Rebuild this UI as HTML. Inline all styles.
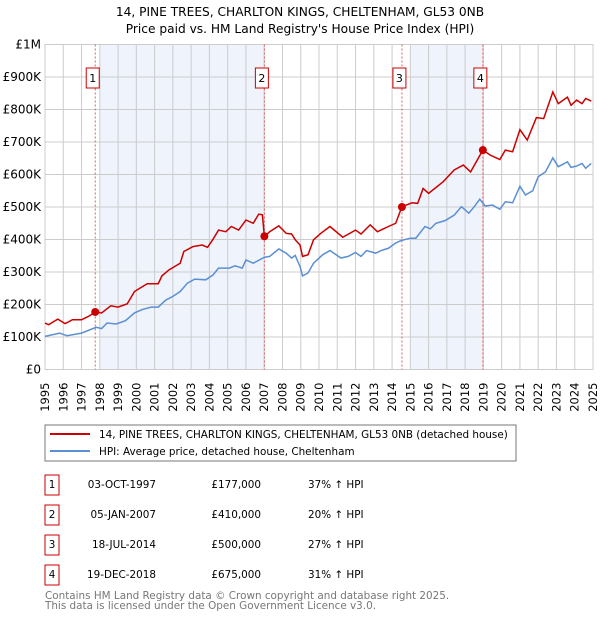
<!DOCTYPE html>
<html><head><meta charset="utf-8"><style>
body{margin:0;background:#fff;width:600px;height:620px;overflow:hidden;font-family:"DejaVu Sans","Liberation Sans",sans-serif}
svg text{font-family:"DejaVu Sans","Liberation Sans",sans-serif}
</style></head><body>
<svg id="c" width="600" height="620">
<text x="300" y="16" text-anchor="middle" font-size="12.2">14, PINE TREES, CHARLTON KINGS, CHELTENHAM, GL53 0NB</text>
<text x="300" y="33" text-anchor="middle" font-size="12.2">Price paid vs. HM Land Registry's House Price Index (HPI)</text>
<g id="plot"></g>
<rect x="45" y="425" width="471" height="36" fill="none" stroke="#777"/>
<line x1="50" y1="434" x2="90" y2="434" stroke="#cc0000" stroke-width="2"/>
<text x="99" y="438" font-size="10.4">14, PINE TREES, CHARLTON KINGS, CHELTENHAM, GL53 0NB (detached house)</text>
<line x1="50" y1="451" x2="90" y2="451" stroke="#5b8fd4" stroke-width="2"/>
<text x="99" y="455" font-size="10.4">HPI: Average price, detached house, Cheltenham</text>
<g id="tbl" font-size="10.4"></g>
<text x="45" y="599" font-size="10.4" fill="#777">Contains HM Land Registry data © Crown copyright and database right 2025.</text>
<text x="45" y="609" font-size="10.4" fill="#777">This data is licensed under the Open Government Licence v3.0.</text>
</svg>
<script>
const yTicks=[0,100,200,300,400,500,600,700,800,900,1000];
const yTickLabels=["£0","£100K","£200K","£300K","£400K","£500K","£600K","£700K","£800K","£900K","£1M"];
const years=[1995,1996,1997,1998,1999,2000,2001,2002,2003,2004,2005,2006,2007,2008,2009,2010,2011,2012,2013,2014,2015,2016,2017,2018,2019,2020,2021,2022,2023,2024,2025];
const shadeBands=[[1998,2007],[2015,2019]];
const saleYears=[1997.75,2007.01,2014.54,2018.97];
const saleValues=[177,410,500,675];
const saleDates=["03-OCT-1997","05-JAN-2007","18-JUL-2014","19-DEC-2018"];
const salePrices=["£177,000","£410,000","£500,000","£675,000"];
const saleHpi=["37% ↑ HPI","20% ↑ HPI","27% ↑ HPI","31% ↑ HPI"];
const hpiT=[1995,1995.8,1996.2,1997,1997.8,1998.1,1998.4,1998.9,1999.4,1999.9,2000.3,2000.8,2001.2,2001.6,2002,2002.4,2002.8,2003.2,2003.8,2004.2,2004.5,2005.1,2005.4,2005.8,2006,2006.4,2007,2007.3,2007.8,2008.2,2008.5,2008.7,2008.96,2009.1,2009.4,2009.7,2010.2,2010.6,2011.2,2011.6,2012,2012.3,2012.6,2013.1,2013.4,2013.8,2014.2,2014.5,2015,2015.3,2015.8,2016.1,2016.4,2016.9,2017.4,2017.8,2018.2,2018.5,2018.8,2019.1,2019.5,2019.9,2020.2,2020.6,2021,2021.3,2021.7,2022,2022.4,2022.8,2023.1,2023.6,2023.8,2024.1,2024.4,2024.6,2024.9];
const hpiV=[102,112,104,112,130,126,143,140,150,174,184,192,192,213,225,240,266,278,276,291,312,312,319,312,337,327,345,348,371,358,343,351,317,288,297,327,353,366,343,348,360,348,366,358,366,373,389,397,404,404,440,433,450,458,475,501,481,501,524,503,506,493,516,513,564,537,550,593,608,651,624,639,622,626,634,619,634];
const pT=[1995,1995.2,1995.7,1996.1,1996.5,1997,1997.4,1997.75,1998.1,1998.6,1999,1999.5,1999.9,2000.3,2000.6,2001.2,2001.4,2001.8,2002.4,2002.6,2003.1,2003.6,2003.9,2004.2,2004.5,2004.9,2005.2,2005.6,2006,2006.4,2006.7,2006.9,2007.01,2007.3,2007.8,2008.2,2008.5,2008.7,2008.96,2009.1,2009.4,2009.7,2010.1,2010.6,2011.3,2012,2012.3,2012.8,2013.2,2013.8,2014.2,2014.54,2015.1,2015.4,2015.7,2016,2016.8,2017.4,2017.9,2018.3,2018.97,2019.4,2019.9,2020.2,2020.6,2021,2021.4,2021.9,2022.3,2022.8,2023.1,2023.6,2023.8,2024.1,2024.4,2024.6,2024.9];
const pV=[143,138,155,141,153,153,164,177,174,196,192,202,240,254,264,264,288,307,327,363,378,383,376,401,429,424,440,429,460,450,478,476,409,424,442,419,417,399,383,348,353,399,419,440,407,429,417,445,424,440,450,501,513,511,557,542,578,614,629,608,675,659,646,675,670,738,706,775,772,854,818,838,813,829,818,834,826];
const L=45,R=593,T=44.5,B=369.5;
const X=y=>L+(y-1995)/30*(R-L);
const Y=v=>B-v/1000*(B-T);
const NS="http://www.w3.org/2000/svg";
function mk(p,tag,at){const e=document.createElementNS(NS,tag);for(const k in at)e.setAttribute(k,at[k]);p.appendChild(e);return e;}
const g=document.getElementById('plot');
shadeBands.forEach(b=>{const r=mk(g,'rect',{x:X(b[0]),y:T,width:X(b[1])-X(b[0]),height:B-T,fill:'#eef3fc'});

});
years.forEach(y=>{const l=mk(g,'line',{x1:X(y),x2:X(y),y1:T,y2:B,stroke:'#ccc'});


const t=mk(g,'text',{transform:`translate(${X(y)+4},${B+13}) rotate(-90)`,'text-anchor':'end','font-size':11.5});t.textContent=y;

});
yTicks.forEach((v,i)=>{const l=mk(g,'line',{x1:L,x2:R,y1:Y(v),y2:Y(v),stroke:'#ccc'});


const t=mk(g,'text',{x:L-4,y:Y(v)+4,'text-anchor':'end','font-size':12});t.textContent=yTickLabels[i];

});
mk(g,'rect',{x:L,y:T,width:R-L,height:B-T,fill:'none',stroke:'#ccc'});
saleYears.forEach((s,i)=>{const l=mk(g,'line',{x1:X(s),x2:X(s),y1:T,y2:B,stroke:'#e06060','stroke-dasharray':'2,2'});


const bx=mk(g,'rect',{x:X(s)-9,y:68,width:13,height:20,fill:'#fff',stroke:'#cc0000'});


const t=mk(g,'text',{x:X(s)-2.5,y:82,'text-anchor':'middle','font-size':11});t.textContent=i+1;

});
const hp=mk(g,'polyline',{points:hpiT.map((t,i)=>X(t)+','+Y(hpiV[i])).join(' '),fill:'none',stroke:'#5b8fd4','stroke-width':1.5});


const pp=mk(g,'polyline',{points:pT.map((t,i)=>X(t)+','+Y(pV[i])).join(' '),fill:'none',stroke:'#cc0000','stroke-width':1.5});


saleYears.forEach((s,i)=>{const c=mk(g,'circle',{cx:X(s),cy:Y(saleValues[i]),r:4,fill:'#cc0000'});

});
const tb=document.getElementById('tbl');
saleDates.forEach((d,i)=>{const y0=475+i*30;
const bx=mk(tb,'rect',{x:45,y:y0,width:14,height:20,fill:'none',stroke:'#cc0000'});


const n=mk(tb,'text',{x:52,y:y0+13});n.setAttribute('text-anchor','middle');n.textContent=i+1;


const a=mk(tb,'text',{x:156,y:y0+13,'text-anchor':'end'});a.textContent=d;


const b=mk(tb,'text',{x:261,y:y0+13,'text-anchor':'end'});b.textContent=salePrices[i];


const c=mk(tb,'text',{x:308,y:y0+13});c.textContent=saleHpi[i];

});
</script>
</body></html>
